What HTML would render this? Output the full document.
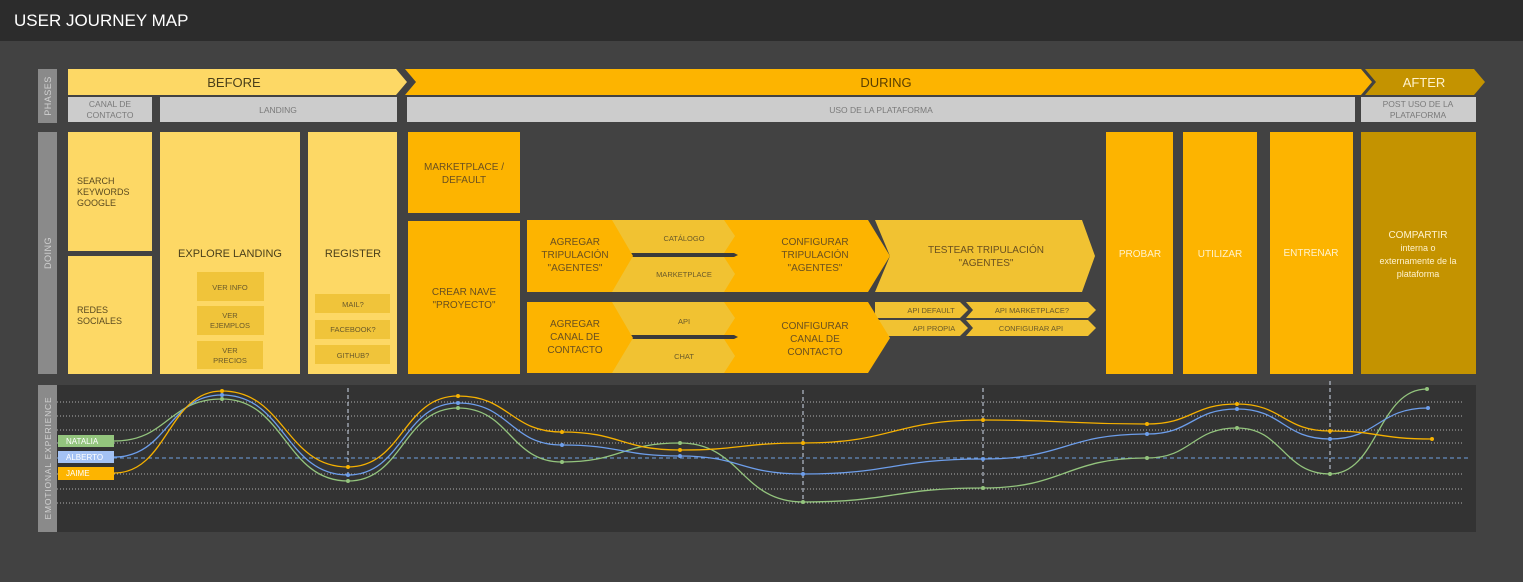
<!DOCTYPE html>
<html><head><meta charset="utf-8"><style>
html,body{margin:0;padding:0;background:#424242;}
svg{display:block;font-family:"Liberation Sans",Arial,sans-serif;}
</style></head><body>
<svg width="1523" height="582" viewBox="0 0 1523 582" xmlns="http://www.w3.org/2000/svg">
<rect width="1523" height="582" fill="#424242"/>
<rect width="1523" height="41" fill="#2c2c2c"/>
<text x="14" y="26" fill="#ffffff" font-size="17">USER JOURNEY MAP</text>

<rect x="38" y="69" width="19" height="54" fill="#8a8a8a"/>
<text transform="translate(51,96) rotate(-90)" text-anchor="middle" fill="#d0d0d0" font-size="9" letter-spacing="0.5">PHASES</text>
<rect x="38" y="132" width="19" height="242" fill="#8a8a8a"/>
<text transform="translate(51,253) rotate(-90)" text-anchor="middle" fill="#d0d0d0" font-size="9" letter-spacing="0.5">DOING</text>

<polygon points="68,69 396,69 407,82 396,95 68,95" fill="#fdd865"/>
<text x="234" y="87" text-anchor="middle" fill="#4a3f1a" font-size="13">BEFORE</text>
<polygon points="405,69 1361,69 1372,82 1361,95 405,95 416,82" fill="#fdb400"/>
<text x="886" y="87" text-anchor="middle" fill="#5a3f00" font-size="13">DURING</text>
<polygon points="1365,69 1474,69 1485,82 1474,95 1365,95 1376,82" fill="#c49300"/>
<text x="1424" y="87" text-anchor="middle" fill="#fff2cc" font-size="13">AFTER</text>

<g fill="#cccccc">
<rect x="68" y="97" width="84" height="25"/>
<rect x="160" y="97" width="237" height="25"/>
<rect x="407" y="97" width="948" height="25"/>
<rect x="1361" y="97" width="115" height="25"/>
</g>
<g fill="#7a7a7a" font-size="8.5" text-anchor="middle">
<text x="110" y="107">CANAL DE</text><text x="110" y="118">CONTACTO</text>
<text x="278" y="113">LANDING</text>
<text x="881" y="113">USO DE LA PLATAFORMA</text>
<text x="1418" y="107">POST USO DE LA</text><text x="1418" y="118">PLATAFORMA</text>
</g>

<g fill="#fdd865">
<rect x="68" y="132" width="84" height="119"/>
<rect x="68" y="256" width="84" height="118"/>
<rect x="160" y="132" width="140" height="242"/>
<rect x="308" y="132" width="89" height="242"/>
</g>
<g fill="#f0c43a">
<rect x="197" y="272" width="67" height="29"/>
<rect x="197" y="306" width="67" height="29"/>
<rect x="197" y="341" width="66" height="28"/>
<rect x="315" y="294" width="75" height="19"/>
<rect x="315" y="320" width="75" height="19"/>
<rect x="315" y="345" width="75" height="19"/>
</g>
<g fill="#5a4a20" font-size="9">
<text x="77" y="184">SEARCH</text><text x="77" y="195">KEYWORDS</text><text x="77" y="206">GOOGLE</text>
<text x="77" y="313">REDES</text><text x="77" y="324">SOCIALES</text>
</g>
<g fill="#4a3f1a" text-anchor="middle">
<text x="230" y="257" font-size="11">EXPLORE LANDING</text>
<text x="353" y="257" font-size="11">REGISTER</text>
</g>
<g fill="#6a5a2a" text-anchor="middle" font-size="7.5">
<text x="230" y="290">VER INFO</text>
<text x="230" y="318">VER</text><text x="230" y="328">EJEMPLOS</text>
<text x="230" y="353">VER</text><text x="230" y="363">PRECIOS</text>
<text x="353" y="307">MAIL?</text>
<text x="353" y="332">FACEBOOK?</text>
<text x="353" y="358">GITHUB?</text>
</g>

<g fill="#fdb400">
<rect x="408" y="132" width="112" height="81"/>
<rect x="408" y="221" width="112" height="153"/>
<rect x="1106" y="132" width="67" height="242"/>
<rect x="1183" y="132" width="74" height="242"/>
<rect x="1270" y="132" width="83" height="242"/>
</g>
<rect x="1361" y="132" width="115" height="242" fill="#c49300"/>
<g fill="#6a5020" text-anchor="middle" font-size="10">
<text x="464" y="170">MARKETPLACE /</text><text x="464" y="183">DEFAULT</text>
<text x="464" y="295">CREAR NAVE</text><text x="464" y="308">"PROYECTO"</text>
</g>
<g fill="#fff2cc" text-anchor="middle" font-size="10">
<text x="1140" y="257">PROBAR</text>
<text x="1220" y="257">UTILIZAR</text>
<text x="1311" y="256">ENTRENAR</text>
<text x="1418" y="238">COMPARTIR</text>
<text x="1418" y="251" font-size="9">interna o</text>
<text x="1418" y="264" font-size="9">externamente de la</text>
<text x="1418" y="277" font-size="9">plataforma</text>
</g>

<!-- row 1 -->
<polygon points="875,220 1082,220 1095,256 1082,292 875,292 890,256" fill="#f1c232"/>
<polygon points="705,220 868,220 890,256 868,292 705,292" fill="#fdb400"/>
<polygon points="600,220 724,220 735,236 724,253 600,253" fill="#f1c232"/>
<polygon points="600,257 724,257 735,274 724,292 600,292" fill="#f1c232"/>
<polygon points="600,253 734,253 738,255 734,257 600,257" fill="#3a3a3a"/>
<polygon points="527,220 612,220 633,256 612,292 527,292" fill="#fdb400"/>
<!-- row 2 -->
<polygon points="875,302 960,302 968,310 960,318 875,318" fill="#f1c232"/>
<polygon points="875,320 960,320 968,328 960,336 875,336" fill="#f1c232"/>
<polygon points="966,302 1088,302 1096,310 1088,318 966,318 973,310" fill="#f1c232"/>
<polygon points="966,320 1088,320 1096,328 1088,336 966,336 973,328" fill="#f1c232"/>
<polygon points="705,302 868,302 890,338 868,373 705,373" fill="#fdb400"/>
<polygon points="600,302 724,302 735,318 724,335 600,335" fill="#f1c232"/>
<polygon points="600,339 724,339 735,356 724,373 600,373" fill="#f1c232"/>
<polygon points="600,335 734,335 738,337 734,339 600,339" fill="#3a3a3a"/>
<polygon points="527,302 612,302 633,338 612,373 527,373" fill="#fdb400"/>

<g fill="#6a5020" text-anchor="middle" font-size="10">
<text x="575" y="245">AGREGAR</text><text x="575" y="258">TRIPULACIÓN</text><text x="575" y="271">"AGENTES"</text>
<text x="815" y="245">CONFIGURAR</text><text x="815" y="258">TRIPULACIÓN</text><text x="815" y="271">"AGENTES"</text>
<text x="986" y="253">TESTEAR TRIPULACIÓN</text><text x="986" y="266">"AGENTES"</text>
<text x="575" y="327">AGREGAR</text><text x="575" y="340">CANAL DE</text><text x="575" y="353">CONTACTO</text>
<text x="815" y="329">CONFIGURAR</text><text x="815" y="342">CANAL DE</text><text x="815" y="355">CONTACTO</text>
</g>
<g fill="#6a5a2a" text-anchor="middle" font-size="7.5">
<text x="684" y="241">CATÁLOGO</text>
<text x="684" y="277">MARKETPLACE</text>
<text x="684" y="324">API</text>
<text x="684" y="359">CHAT</text>
<text x="931" y="313">API DEFAULT</text>
<text x="934" y="331">API PROPIA</text>
<text x="1032" y="313">API MARKETPLACE?</text>
<text x="1031" y="331">CONFIGURAR API</text>
</g>

<rect x="38" y="385" width="1438" height="147" fill="#333333"/>
<rect x="38" y="385" width="19" height="147" fill="#8a8a8a"/>
<text transform="translate(51,458) rotate(-90)" text-anchor="middle" fill="#d0d0d0" font-size="8.5" letter-spacing="0.8">EMOTIONAL EXPERIENCE</text>
<g stroke="#cfcfcf" stroke-width="1" stroke-dasharray="1,2" opacity="0.8">
<line x1="57" y1="402" x2="1462" y2="402"/>
<line x1="57" y1="416" x2="1462" y2="416"/>
<line x1="57" y1="430" x2="1462" y2="430"/>
<line x1="57" y1="443" x2="1462" y2="443"/>
<line x1="57" y1="474" x2="1462" y2="474"/>
<line x1="57" y1="489" x2="1462" y2="489"/>
<line x1="57" y1="503" x2="1462" y2="503"/>
</g>
<line x1="57" y1="458" x2="1470" y2="458" stroke="#6fa0e0" stroke-dasharray="4,3"/>
<g stroke="#cfd8e8" stroke-dasharray="4,3">
<line x1="348" y1="388" x2="348" y2="482"/>
<line x1="803" y1="390" x2="803" y2="503"/>
<line x1="983" y1="388" x2="983" y2="490"/>
<line x1="1330" y1="381" x2="1330" y2="476"/>
</g>
<g fill="none" stroke-width="1.3">
<path stroke="#93c47d" d="M114,441 C168,441 168,399 222,399 C285,399 285,481 348,481 C403,481 403,408 458,408 C510,408 510,462 562,462 C621,462 621,443 680,443 C741,443 741,502 803,502 C893,502 893,488 983,488 C1065,488 1065,458 1147,458 C1192,458 1192,428 1237,428 C1283,428 1283,474 1330,474 C1378,474 1378,389 1427,389"/>
<path stroke="#6d9eeb" d="M114,457 C168,457 168,395 222,395 C285,395 285,475 348,475 C403,475 403,403 458,403 C510,403 510,445 562,445 C621,445 621,456 680,456 C741,456 741,474 803,474 C893,474 893,459 983,459 C1065,459 1065,434 1147,434 C1192,434 1192,409 1237,409 C1283,409 1283,439 1330,439 C1378,439 1378,408 1428,408"/>
<path stroke="#f6b100" d="M114,473 C168,473 168,391 222,391 C285,391 285,467 348,467 C403,467 403,396 458,396 C510,396 510,432 562,432 C621,432 621,450 680,450 C741,450 741,443 803,443 C893,443 893,420 983,420 C1065,420 1065,424 1147,424 C1192,424 1192,404 1237,404 C1283,404 1283,431 1330,431 C1378,431 1378,439 1432,439"/>
</g>
<g fill="#93c47d">
<circle cx="222" cy="399" r="2"/><circle cx="348" cy="481" r="2"/><circle cx="458" cy="408" r="2"/><circle cx="562" cy="462" r="2"/><circle cx="680" cy="443" r="2"/><circle cx="803" cy="502" r="2"/><circle cx="983" cy="488" r="2"/><circle cx="1147" cy="458" r="2"/><circle cx="1237" cy="428" r="2"/><circle cx="1330" cy="474" r="2"/><circle cx="1427" cy="389" r="2"/>
</g>
<g fill="#6d9eeb">
<circle cx="222" cy="395" r="2"/><circle cx="348" cy="475" r="2"/><circle cx="458" cy="403" r="2"/><circle cx="562" cy="445" r="2"/><circle cx="680" cy="456" r="2"/><circle cx="803" cy="474" r="2"/><circle cx="983" cy="459" r="2"/><circle cx="1147" cy="434" r="2"/><circle cx="1237" cy="409" r="2"/><circle cx="1330" cy="439" r="2"/><circle cx="1428" cy="408" r="2"/>
</g>
<g fill="#f6b100">
<circle cx="222" cy="391" r="2"/><circle cx="348" cy="467" r="2"/><circle cx="458" cy="396" r="2"/><circle cx="562" cy="432" r="2"/><circle cx="680" cy="450" r="2"/><circle cx="803" cy="443" r="2"/><circle cx="983" cy="420" r="2"/><circle cx="1147" cy="424" r="2"/><circle cx="1237" cy="404" r="2"/><circle cx="1330" cy="431" r="2"/><circle cx="1432" cy="439" r="2"/>
</g>
<rect x="58" y="435" width="56" height="12" fill="#93c47d"/>
<rect x="58" y="451" width="56" height="12" fill="#a4c2f4"/>
<rect x="58" y="467" width="56" height="13" fill="#fdb400"/>
<g fill="#ffffff" font-size="8">
<text x="66" y="444">NATALIA</text>
<text x="66" y="460">ALBERTO</text>
<text x="66" y="476">JAIME</text>
</g>
</svg>
</body></html>
